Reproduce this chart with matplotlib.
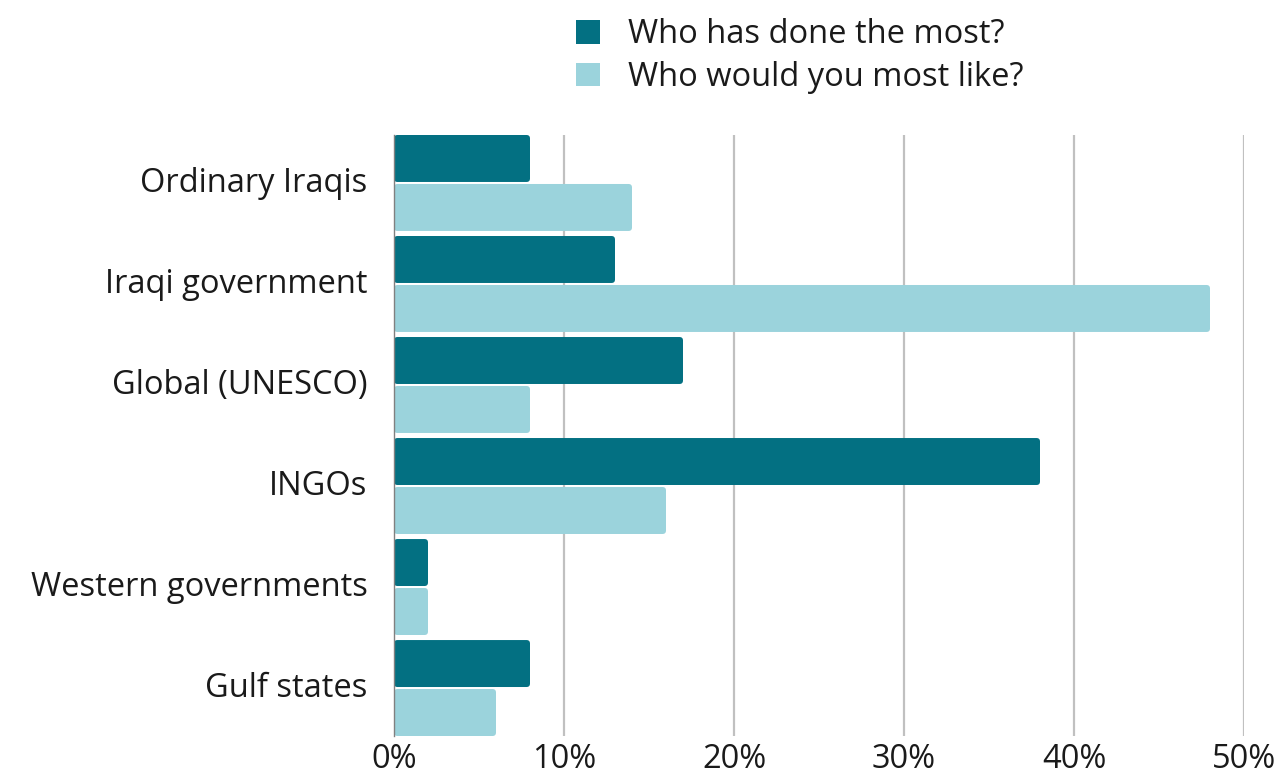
import matplotlib.pyplot as plt
from matplotlib.patches import FancyBboxPatch, Patch
import numpy as np

plt.rcParams['font.family'] = ['Open Sans', 'DejaVu Sans']

categories = ['Ordinary Iraqis', 'Iraqi government', 'Global (UNESCO)',
              'INGOs', 'Western governments', 'Gulf states']
done_most = [8, 13, 17, 38, 2, 8]
most_like = [14, 48, 8, 16, 2, 6]
series_names = ['Who has done the most?', 'Who would you most like?']
xticks = [0, 10, 20, 30, 40, 50]

dark = '#037082'
light = '#9bd3dc'
text_col = '#1a1a1a'
fs = 23.5

fig = plt.figure(figsize=(12.79, 7.78), dpi=100)
ax = fig.add_axes([394 / 1279, 1 - 736 / 778, 850 / 1279, 601 / 778])

y = np.arange(len(categories))
h = 0.465
b1 = ax.barh(y + 0.2325, done_most, height=h, color=dark)
b2 = ax.barh(y + 0.7175, most_like, height=h, color=light)

# swap the plain rectangles for ones with softly rounded corners
px_x = 50 / 850
px_y = 5.95 / 601
for bars in (b1, b2):
    for r in bars:
        x0, y0 = r.get_x(), r.get_y()
        w, hh = r.get_width(), r.get_height()
        r.set_visible(False)
        p = FancyBboxPatch((x0, y0), w, hh,
                           boxstyle=f'round,pad=0,rounding_size={3.5 * px_x}',
                           mutation_aspect=px_y / px_x,
                           facecolor=r.get_facecolor(), edgecolor='none',
                           zorder=3)
        ax.add_patch(p)

ax.set_xlim(0, 50)
ax.set_ylim(5.95, 0)

ax.set_xticks(xticks)
ax.set_xticklabels([f'{v}%' for v in xticks], fontsize=fs, color=text_col)
ax.set_yticks(y + 0.44)
ax.set_yticklabels(categories, fontsize=fs, color=text_col)
ax.tick_params(axis='both', length=0)
ax.tick_params(axis='y', pad=19)
ax.tick_params(axis='x', pad=5)

for v in xticks[1:]:
    ax.axvline(v, color='#c0c0c0', lw=1.6, zorder=1)

for s in ['top', 'right', 'bottom']:
    ax.spines[s].set_visible(False)
ax.spines['left'].set_color('#808080')
ax.spines['left'].set_linewidth(1.0)
ax.spines['left'].set_zorder(4)

handles = [Patch(facecolor=dark, edgecolor='none'),
           Patch(facecolor=light, edgecolor='none')]
fig.legend(handles, series_names, loc='upper left',
           bbox_to_anchor=(547 / 1279, 1 + 11 / 778), frameon=False,
           fontsize=fs, handlelength=0.72, handleheight=0.72,
           handletextpad=0.85, labelspacing=0.3, labelcolor=text_col)

fig.savefig('out.png', dpi=100, facecolor='white')
